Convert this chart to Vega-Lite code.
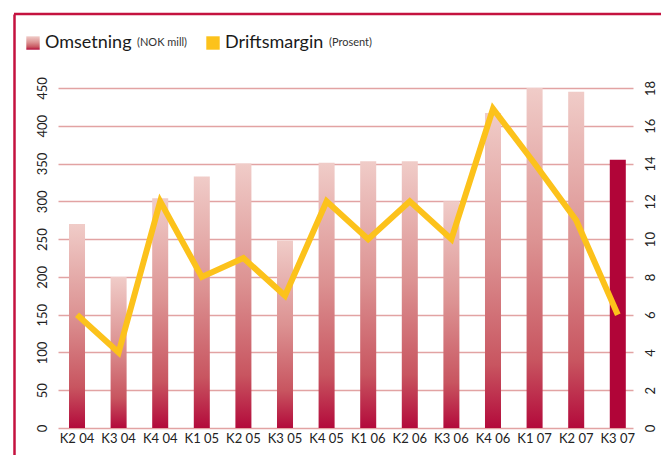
{
  "$schema": "https://vega.github.io/schema/vega-lite/v6.json",
  "width": 667,
  "height": 450,
  "autosize": "none",
  "padding": {"left": 14, "top": 14, "right": -19, "bottom": -9},
  "background": "white",
  "config": {
    "view": {"stroke": "#c4123f", "strokeWidth": 2.5, "strokeDash": [647, 5000]},
    "font": "Lato"
  },
  "data": {
    "values": [
      {"q": "K2 04", "oms": 270, "dm": 6},
      {"q": "K3 04", "oms": 200, "dm": 4},
      {"q": "K4 04", "oms": 304, "dm": 12},
      {"q": "K1 05", "oms": 333, "dm": 8},
      {"q": "K2 05", "oms": 350, "dm": 9},
      {"q": "K3 05", "oms": 248, "dm": 7},
      {"q": "K4 05", "oms": 351, "dm": 12},
      {"q": "K1 06", "oms": 353, "dm": 10},
      {"q": "K2 06", "oms": 353, "dm": 12},
      {"q": "K3 06", "oms": 300, "dm": 10},
      {"q": "K4 06", "oms": 417, "dm": 16.9},
      {"q": "K1 07", "oms": 450, "dm": 14},
      {"q": "K2 07", "oms": 445, "dm": 11},
      {"q": "K3 07", "oms": 355, "dm": 6}
    ]
  },
  "encoding": {
    "x": {
      "field": "q",
      "type": "ordinal",
      "sort": null,
      "scale": {"paddingInner": 0.615, "paddingOuter": 0, "range": [55, 611.8]},
      "axis": {
        "orient": "bottom",
        "offset": -36,
        "domain": false,
        "ticks": false,
        "grid": false,
        "labelAngle": 0,
        "labelPadding": 4,
        "labelFontSize": 13,
        "labelColor": "#222222",
        "title": null
      }
    }
  },
  "layer": [
    {
      "encoding": {
        "y": {
          "field": "oms",
          "type": "quantitative",
          "scale": {"domain": [-47.647, 547.941], "nice": false, "zero": false},
          "axis": {
            "orient": "left",
            "offset": 0,
            "values": [0, 50, 100, 150, 200, 250, 300, 350, 400, 450],
            "domain": true,
            "domainColor": "#c4123f",
            "domainWidth": 2.5,
            "grid": false,
            "ticks": false,
            "labelPadding": -35,
            "labelAngle": -90,
            "labelAlign": "center",
            "labelBaseline": "bottom",
            "labelFontSize": 13,
            "labelColor": "#222222",
            "title": null
          }
        },
        "y2": {"datum": 0}
      },
      "layer": [
        {
          "transform": [{"filter": "datum.q !== 'K3 07'"}],
          "mark": {
            "type": "bar",
            "strokeWidth": 0,
            "fill": {
              "gradient": "linear",
              "x1": 0, "y1": 0, "x2": 0, "y2": 1,
              "stops": [
                {"offset": 0, "color": "#f0ccc8"},
                {"offset": 0.45, "color": "#dc9292"},
                {"offset": 0.8, "color": "#c85560"},
                {"offset": 1, "color": "#b30a3b"}
              ]
            }
          },
          "encoding": {
            "stroke": {
              "datum": "Omsetning",
              "scale": {"range": ["#c85560"]},
              "legend": {
                "orient": "none",
                "legendX": 10,
                "legendY": 20,
                "direction": "horizontal",
                "padding": 0,
                "title": "(NOK mill)",
                "titleOrient": "right",
                "titleFontSize": 11,
                "titleFontWeight": "normal",
                "titleColor": "#333333",
                "titlePadding": 6,
                "labelFontSize": 18,
                "labelColor": "#1a1a1a",
                "labelOffset": 3,
                "symbolType": "square",
                "symbolSize": 180,
                "symbolStrokeWidth": 0
              }
            }
          }
        },
        {
          "transform": [{"filter": "datum.q === 'K3 07'"}],
          "mark": {"type": "bar", "color": "#b10538"}
        }
      ]
    },
    {
      "mark": {"type": "line", "strokeWidth": 6, "strokeJoin": "miter", "strokeCap": "butt"},
      "encoding": {
        "y": {
          "field": "dm",
          "type": "quantitative",
          "scale": {"domain": [-1.9059, 21.9176], "nice": false, "zero": false},
          "axis": {
            "orient": "right",
            "offset": -48,
            "values": [0, 2, 4, 6, 8, 10, 12, 14, 16, 18],
            "domain": false,
            "grid": false,
            "ticks": true,
            "tickSize": -575,
            "tickColor": "#e2a3a3",
            "tickWidth": 1.5,
            "labelPadding": 586,
            "labelAngle": -90,
            "labelAlign": "center",
            "labelBaseline": "top",
            "labelFontSize": 13,
            "labelColor": "#222222",
            "title": null
          }
        },
        "color": {
          "datum": "Driftsmargin",
          "scale": {"range": ["#fcc21b"]},
          "legend": {
            "orient": "none",
            "legendX": 190,
            "legendY": 20,
            "direction": "horizontal",
            "padding": 0,
            "title": "(Prosent)",
            "titleOrient": "right",
            "titleFontSize": 11,
            "titleFontWeight": "normal",
            "titleColor": "#333333",
            "titlePadding": 6,
            "labelFontSize": 18,
            "labelColor": "#1a1a1a",
            "labelOffset": 3,
            "symbolType": "square",
            "symbolSize": 180,
            "symbolFillColor": "#fcc21b",
            "symbolStrokeColor": "#fcc21b",
            "symbolStrokeWidth": 0
          }
        }
      }
    }
  ],
  "resolve": {
    "scale": {"y": "independent"}
  }
}
